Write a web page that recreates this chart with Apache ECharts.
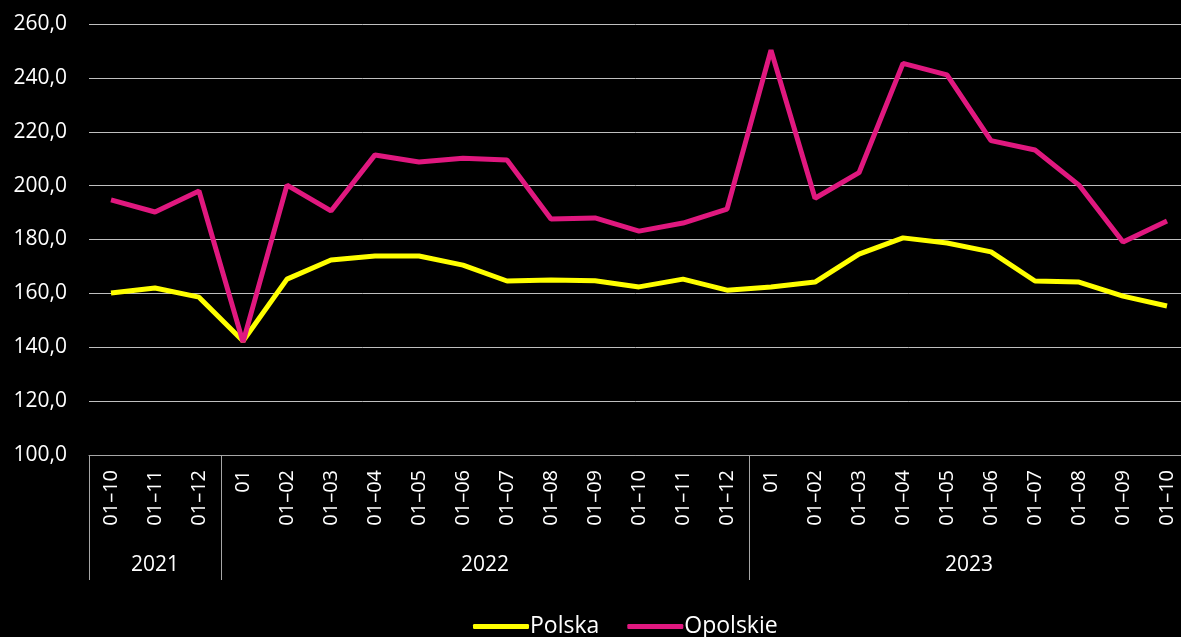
<!DOCTYPE html>
<html>
<head>
<meta charset="utf-8">
<script src="https://cdn.jsdelivr.net/npm/echarts@6/dist/echarts.min.js"></script>
<style>
  html, body { margin: 0; padding: 0; background: #000; }
  #chart { width: 1181px; height: 637px; }
</style>
</head>
<body>
<div id="chart"></div>
<script>
// categories: month ranges, grouped by year
const months = [
  "01–10", "01–11", "01–12",
  "01", "01–02", "01–03", "01–04", "01–05", "01–06", "01–07", "01–08", "01–09", "01–10", "01–11", "01–12",
  "01", "01–02", "01–03", "01–04", "01–05", "01–06", "01–07", "01–08", "01–09", "01–10",
];
const years = ["2021", "2022", "2023"];
const yearCounts = [3, 12, 10];

const polska = [
  160.1, 162.0, 158.6,
  142.3, 165.3, 172.4, 173.9, 173.9, 170.5, 164.6, 165.0, 164.7, 162.4, 165.3, 161.2,
  162.4, 164.2, 174.6, 180.6, 178.7, 175.4, 164.6, 164.2, 159.0, 155.3,
];
const opolskie = [
  194.7, 190.2, 198.0,
  141.9, 200.2, 190.6, 211.4, 208.8, 210.2, 209.5, 187.6, 188.0, 183.1, 186.1, 191.3,
  250.3, 195.3, 204.8, 245.4, 241.1, 216.7, 213.2, 200.2, 179.1, 186.9,
];

const FONT = "'Open Sans', sans-serif";
const YELLOW = "#ffff00";
const MAGENTA = "#e0187f";

// group boundaries (index where each year starts) and label centres
const groupStarts = [];
const groupCenters = [];
let acc = 0;
yearCounts.forEach((n) => {
  groupStarts.push(acc);
  groupCenters.push(acc + (n - 1) / 2);
  acc += n;
});

const chart = echarts.init(document.getElementById("chart"), null, { renderer: "canvas" });
chart.setOption({
  backgroundColor: "#000",
  animation: false,
  textStyle: { fontFamily: FONT },
  grid: { left: 89, top: 24, bottom: 182, width: 1100, containLabel: false, outerBoundsMode: "none" },
  legend: {
    top: 610,
    left: 468,
    icon: "roundRect",
    itemWidth: 56,
    itemHeight: 5,
    itemGap: 28,
    textStyle: { color: "#fff", fontSize: 23, fontFamily: FONT, padding: [0, 0, 0, -4] },
    data: ["Polska", "Opolskie"],
  },
  xAxis: [
    {
      type: "category",
      data: months,
      boundaryGap: true,
      axisLine: { lineStyle: { color: "#a6a6a6", width: 1 } },
      axisTick: {
        show: true,
        length: 125,
        interval: (i) => groupStarts.includes(i),
        lineStyle: { color: "#a6a6a6", width: 1 },
      },
      axisLabel: {
        rotate: 90,
        interval: 0,
        margin: 15,
        color: "#fff",
        fontSize: 20,
        fontFamily: FONT,
      },
    },
    {
      type: "value",
      position: "bottom",
      min: -0.5,
      max: months.length - 0.5,
      axisLine: { show: false },
      axisTick: { show: false },
      splitLine: { show: false },
      axisLabel: {
        customValues: groupCenters,
        margin: 100,
        color: "#fff",
        fontSize: 21,
        fontFamily: FONT,
        formatter: (v) => {
          const k = groupCenters.indexOf(v);
          return k >= 0 ? years[k] : "";
        },
      },
    },
  ],
  yAxis: {
    type: "value",
    min: 100,
    max: 260,
    interval: 20,
    axisLine: { show: false },
    axisTick: { show: false },
    splitLine: { lineStyle: { color: "#bfbfbf", width: 1 } },
    axisLabel: {
      color: "#fff",
      fontSize: 21,
      fontFamily: FONT,
      margin: 22,
      formatter: (v) => v.toFixed(1).replace(".", ","),
    },
  },
  series: [
    {
      name: "Polska",
      type: "line",
      data: polska,
      symbol: "none",
      lineStyle: { color: YELLOW, width: 5 },
      itemStyle: { color: YELLOW },
    },
    {
      name: "Opolskie",
      type: "line",
      data: opolskie,
      symbol: "none",
      lineStyle: { color: MAGENTA, width: 5 },
      itemStyle: { color: MAGENTA },
    },
  ],
});
</script>
</body>
</html>
